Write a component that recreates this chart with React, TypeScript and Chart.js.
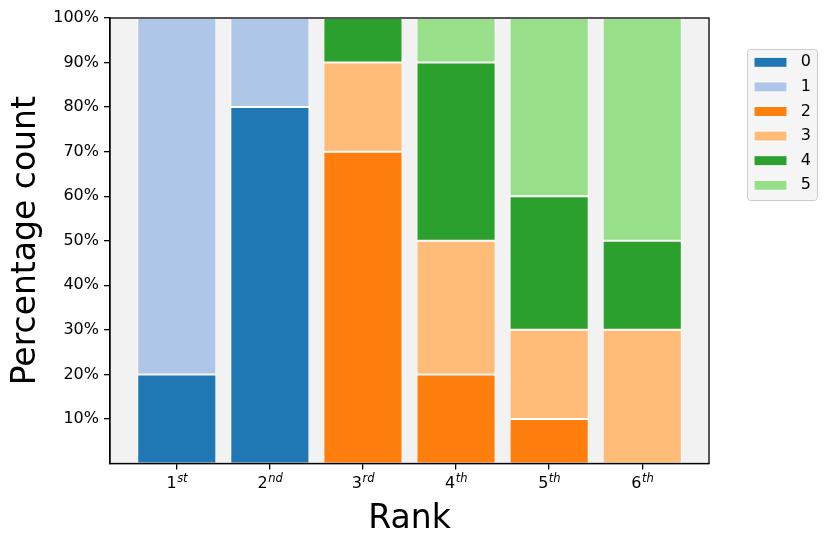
import React, { useEffect, useRef } from "react";
import { Chart, registerables } from "chart.js";

Chart.register(...registerables);

const RANK_NUMBERS = ["1", "2", "3", "4", "5", "6"];
const RANK_SUFFIXES = ["st", "nd", "rd", "th", "th", "th"];
const RANKS = RANK_NUMBERS.map((n, i) => n + RANK_SUFFIXES[i]);
const SERIES_NAMES = ["0", "1", "2", "3", "4", "5"];
const SERIES_0 = [20, 80, null, null, null, null];
const SERIES_1 = [80, 20, null, null, null, null];
const SERIES_2 = [null, null, 70, 20, 10, null];
const SERIES_3 = [null, null, 20, 30, 20, 30];
const SERIES_4 = [null, null, 10, 40, 30, 20];
const SERIES_5 = [null, null, null, 10, 40, 50];
const Y_TICKS = [10, 20, 30, 40, 50, 60, 70, 80, 90, 100];
const COLORS = ["#1f77b4", "#aec7e8", "#ff7f0e", "#ffbb78", "#2ca02c", "#98df8a"];

const ALL_SERIES = [SERIES_0, SERIES_1, SERIES_2, SERIES_3, SERIES_4, SERIES_5];
const FONT = "DejaVu Sans";

const decorPlugin = {
  id: "decor",
  afterLayout(chart: any) {
    const lg = chart.legend;
    if (lg) {
      const pad = lg.options.labels.padding;
      lg.left = 754 - pad;
      lg.right = 811;
      lg.top = 54.3 - pad;
      lg.bottom = 545;
    }
  },
  beforeDraw(chart: any) {
    const { ctx, chartArea: a } = chart;
    ctx.save();
    ctx.fillStyle = "#f2f2f2";
    ctx.fillRect(a.left, a.top, a.right - a.left, a.bottom - a.top);
    const x = 747.5, y = 49.5, w = 70, h = 151, r = 3;
    ctx.beginPath();
    ctx.moveTo(x + r, y);
    ctx.lineTo(x + w - r, y);
    ctx.quadraticCurveTo(x + w, y, x + w, y + r);
    ctx.lineTo(x + w, y + h - r);
    ctx.quadraticCurveTo(x + w, y + h, x + w - r, y + h);
    ctx.lineTo(x + r, y + h);
    ctx.quadraticCurveTo(x, y + h, x, y + h - r);
    ctx.lineTo(x, y + r);
    ctx.quadraticCurveTo(x, y, x + r, y);
    ctx.closePath();
    ctx.fillStyle = "rgba(242,242,242,0.8)";
    ctx.fill();
    ctx.strokeStyle = "#cccccc";
    ctx.lineWidth = 1;
    ctx.stroke();
    ctx.restore();
  },
  afterDraw(chart: any) {
    const { ctx, chartArea: a } = chart;
    ctx.save();
    ctx.strokeStyle = "#000";
    ctx.lineWidth = 1.3;
    ctx.strokeRect(a.left, a.top, a.right - a.left, a.bottom - a.top);
    // rank tick labels with superscript suffixes
    const sx = chart.scales.x;
    ctx.fillStyle = "#000";
    ctx.textBaseline = "alphabetic";
    ctx.textAlign = "left";
    RANK_NUMBERS.forEach((num, i) => {
      const suf = RANK_SUFFIXES[i];
      ctx.font = `16px "${FONT}"`;
      const wD = ctx.measureText(num).width;
      ctx.font = `italic 11.5px "${FONT}"`;
      const wS = ctx.measureText(suf).width;
      const cx = sx.getPixelForValue(i);
      const start = cx - (wD + wS) / 2;
      ctx.font = `16px "${FONT}"`;
      ctx.fillText(num, start, a.bottom + 24);
      ctx.font = `italic 11.5px "${FONT}"`;
      ctx.fillText(suf, start + wD + 0.5, a.bottom + 18);
    });
    ctx.restore();
  },
};

export default function App() {
  const ref = useRef<HTMLCanvasElement | null>(null);
  useEffect(() => {
    if (!ref.current) return;
    const datasets = ALL_SERIES.map((s, k) => ({
      label: SERIES_NAMES[k],
      data: s.map((v, i) => ({ x: i, y: v })),
      backgroundColor: COLORS[k],
      borderColor: "#ffffff",
      borderWidth: 1,
      borderSkipped: false as any,
      categoryPercentage: 1,
      barPercentage: 0.85,
    }));
    const chart = new Chart(ref.current, {
      type: "bar",
      data: { labels: RANKS, datasets },
      plugins: [decorPlugin],
      options: {
        animation: false,
        responsive: false,
        maintainAspectRatio: false,
        layout: { padding: { left: 0, top: 18, right: 51.2, bottom: 0 } },
        plugins: {
          tooltip: { enabled: false },
          legend: {
            position: "right",
            align: "start",
            labels: {
              boxWidth: 33,
              boxHeight: 10,
              padding: 8.6,
              color: "#000",
              textAlign: "right",
              font: { family: FONT, size: 16 },
            },
          },
        },
        scales: {
          x: {
            type: "linear",
            stacked: true,
            offset: false,
            min: -0.7175,
            max: 5.7175,
            afterBuildTicks: (s: any) => {
              s.ticks = RANKS.map((_, i) => ({ value: i }));
            },
            afterFit: (s: any) => {
              s.height = 81.5;
            },
            ticks: { display: false, autoSkip: false },
            grid: { offset: false, drawOnChartArea: false, drawTicks: true, tickLength: 6, color: "#000", lineWidth: 1.3 },
            border: { display: true, color: "#000", width: 1.3 },
            title: {
              display: true,
              text: "Rank",
              color: "#000",
              font: { family: FONT, size: 33 },
              padding: { top: 0, bottom: 6 },
            },
          },
          y: {
            type: "linear",
            stacked: true,
            min: 0,
            max: 100,
            afterBuildTicks: (s: any) => {
              s.ticks = Y_TICKS.map((v) => ({ value: v }));
            },
            afterFit: (s: any) => {
              s.width = 110;
            },
            ticks: {
              color: "#000",
              padding: 5,
              font: { family: FONT, size: 16 },
              callback: (v: any) => `${v}%`,
            },
            grid: { drawOnChartArea: false, drawTicks: true, tickLength: 6, color: "#000", lineWidth: 1.3 },
            border: { display: true, color: "#000", width: 1.3 },
            title: {
              display: true,
              text: "Percentage count",
              color: "#000",
              font: { family: FONT, size: 33 },
              padding: { top: 7, bottom: 0 },
            },
          },
        },
      } as any,
    });
    return () => chart.destroy();
  }, []);
  return (
    <div style={{ position: "fixed", left: 0, top: 0, width: 830, height: 545 }}>
      <canvas ref={ref} width={830} height={545} style={{ width: 830, height: 545 }} />
    </div>
  );
}
